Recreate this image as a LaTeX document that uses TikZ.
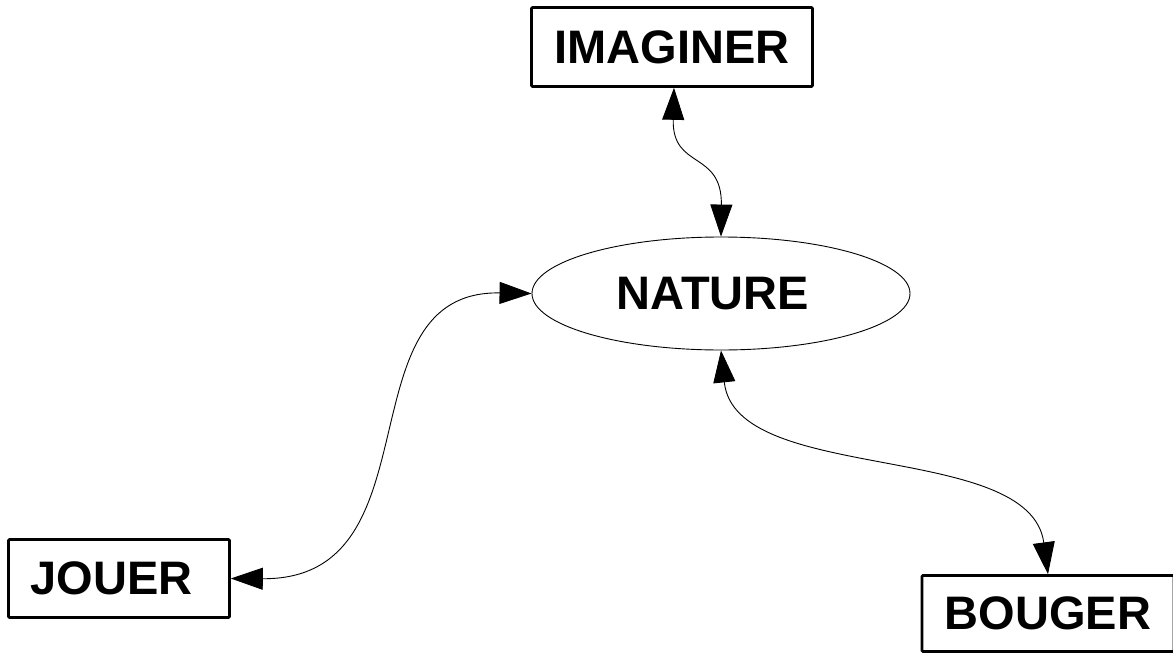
\documentclass[tikz,border=0pt]{standalone}
\usepackage{fontspec}
\setmainfont{Liberation Sans}
\usetikzlibrary{arrows.meta,shapes.geometric}
\begin{document}
\begin{tikzpicture}[x=1pt,y=-1pt,
  lbl/.style={font=\bfseries\fontsize{47}{56}\selectfont, inner sep=0pt},
  boxnode/.style={lbl, draw, line width=2.6pt, rectangle, rounded corners=1pt},
  ellnode/.style={lbl, draw, line width=0.9pt, ellipse},
  bi/.style={{Triangle[length=32pt,width=22pt]}-{Triangle[length=32pt,width=22pt]}, line width=0.9pt}]
\useasboundingbox (0,0) rectangle (1173,653);
\fill[white] (0,0) rectangle (1173,653);
\node[boxnode, minimum width=281pt, minimum height=79pt] (imaginer) at (672,47) {IMAGINER};
\node[ellnode, minimum width=378pt, minimum height=113pt] (nature) at (721,293.5) {NATURE\hspace*{16pt}};
\node[boxnode, minimum width=221pt, minimum height=78pt] (jouer) at (119,578.5) {JOUER\hspace*{15pt}};
\node[boxnode, minimum width=252pt, minimum height=76pt] (bouger) at (1048,613.5) {BOUGER};
\draw[bi] (imaginer.south -| 674,0) .. controls (672,170) and (722,150) .. (nature.north);
\draw[bi] (jouer.east) .. controls (440,580) and (340,290) .. (nature.west);
\draw[bi] (nature.south) .. controls (735,485) and (1030,440) .. (bouger.north);
\end{tikzpicture}
\end{document}
